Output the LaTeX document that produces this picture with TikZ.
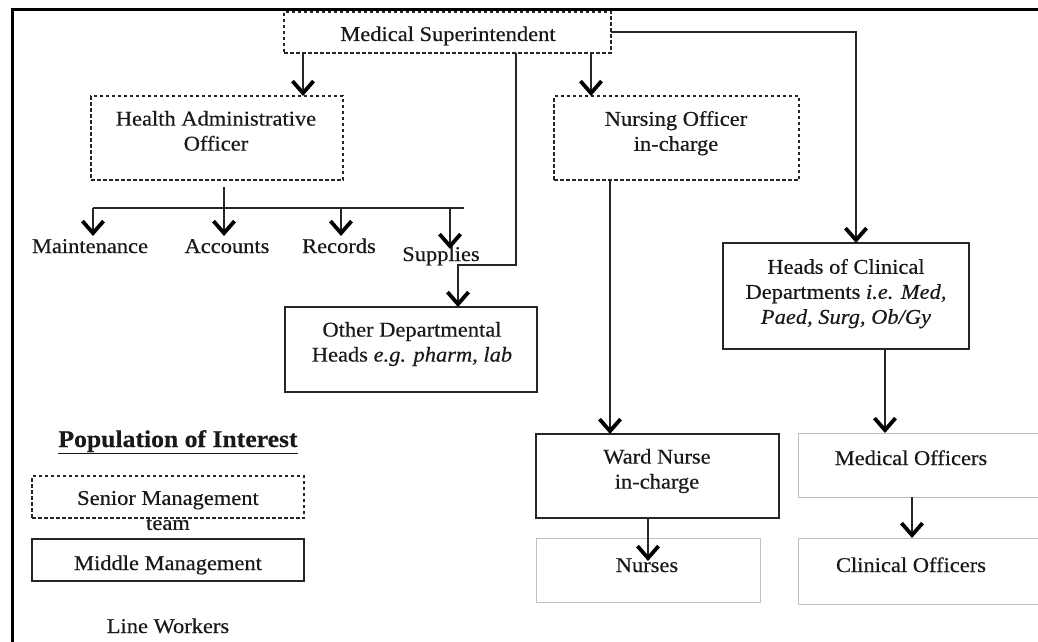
\documentclass[tikz,border=0pt]{standalone}
\usepackage{fontspec}
\setmainfont{Liberation Serif}[FakeStretch=1.07, FakeBold=0.4]
\usetikzlibrary{arrows.meta}
\begin{document}
\begin{tikzpicture}[x=1pt,y=-1pt,
  every node/.style={inner sep=0pt, outer sep=0pt},
  txt/.style={font=\fontsize{21}{25}\selectfont, align=center, text=black!90},
  dbox/.style={draw=black!85, line width=1.2pt, dash pattern=on 3.5pt off 2.5pt, anchor=north west},
  sbox/.style={draw=black!85, line width=1.4pt, anchor=north west},
  gbox/.style={draw=black!25, line width=1pt, anchor=north west},
  conn/.style={draw=black!85, line width=1.3pt},
  arr/.style={conn, -{Straight Barb[line width=3.8pt, length=12pt, width=21pt, black]}}
]
\useasboundingbox (0,0) rectangle (1038,642);
\clip (0,0) rectangle (1038,642);
% frame
\coordinate (ftl) at (12,10);
\coordinate (ftr) at (1040,10);
\coordinate (fbl) at (12,644);
\draw[line width=3pt] (ftr) -- (ftl) -- (fbl);

% boxes
\node[dbox, minimum width=327, minimum height=41] (ms) at (284,12) {};
\node[dbox, minimum width=252, minimum height=84] (hao) at (91,96) {};
\node[dbox, minimum width=245, minimum height=84] (noi) at (554,96) {};
\node[sbox, minimum width=252, minimum height=85] (odh) at (285,307) {};
\node[sbox, minimum width=246, minimum height=106] (hcd) at (723,243) {};
\node[sbox, minimum width=243, minimum height=84] (wn) at (536,434) {};
\node[gbox, minimum width=224, minimum height=64] (nur) at (536,538) {};
\node[gbox, minimum width=260, minimum height=64] (mo) at (798,433) {};
\node[gbox, minimum width=260, minimum height=66] (co) at (798,538) {};
\node[dbox, minimum width=272, minimum height=42] (lsm) at (32,476) {};
\node[sbox, minimum width=272, minimum height=42] (lmm) at (32,539) {};

% texts
\node[txt, anchor=base] (ms-t) at (448,41) {Medical Superintendent};
\node[txt, anchor=north] (hao-t) at (216,111) {Health Administrative\\Officer};
\node[txt, anchor=north] (noi-t) at (676,111) {Nursing Officer\\in-charge};
\node[txt, anchor=north] (odh-t) at (412,322) {Other Departmental\\Heads \textit{e.g. pharm, lab}};
\node[txt, anchor=north] (hcd-t) at (846,259) {Heads of Clinical\\Departments \textit{i.e. Med,}\\\textit{Paed, Surg, Ob/Gy}};
\node[txt, anchor=north] (wn-t) at (657,449) {Ward Nurse\\in-charge};
\node[txt, anchor=base] (nur-t) at (647,572) {Nurses};
\node[txt, anchor=base] (mo-t) at (911,465) {Medical Officers};
\node[txt, anchor=base] (co-t) at (911,572) {Clinical Officers};
\node[txt, anchor=base] (mnt) at (90,253) {Maintenance};
\node[txt, anchor=base] (acc) at (227,253) {Accounts};
\node[txt, anchor=base] (rec) at (339,253) {Records};
\node[txt, anchor=base] (sup) at (441,261) {Supplies};
\node[txt, anchor=base, font=\fontsize{24}{25}\selectfont\bfseries] (poi) at (178,447) {\underline{Population of Interest}};
\node[txt, anchor=north] (lsm-t) at (168,491) {Senior Management\\team};
\node[txt, anchor=base] (lmm-t) at (168,570) {Middle Management};
\node[txt, anchor=base] (lw) at (168,633) {Line Workers};

% connectors
\draw[arr] (ms.south -| 303,0) -- (hao.north -| 303,0);
\draw[arr] (ms.south -| 591,0) -- (noi.north -| 591,0);
\coordinate (br1) at (516,265);
\coordinate (br2) at (458,265);
\draw[arr] (ms.south -| br1) -- (br1) -- (br2) -- (odh.north -| br2);
\coordinate (cr1) at (856,32);
\draw[arr] (ms.east |- cr1) -- (cr1) -- (hcd.north -| cr1);
\draw[arr] (noi.south -| 610,0) -- (wn.north -| 610,0);
\draw[arr] (hcd.south -| 885,0) -- (mo.north -| 885,0);
\draw[arr] (wn.south -| 648,0) -- (648,561);
\draw[arr] (mo.south -| 912,0) -- (co.north -| 912,0);
% admin branches
\coordinate (hs) at (224,187);
\coordinate (hl) at (93,208);
\coordinate (hr) at (464,208);
\draw[conn] (hl) -- (hr);
\draw[arr] (hs) -- (224,236);
\draw[arr] (hl) -- (93,236);
\draw[arr] (341,208) -- (341,236);
\draw[arr] (450,208) -- (450,249);
\end{tikzpicture}
\end{document}
